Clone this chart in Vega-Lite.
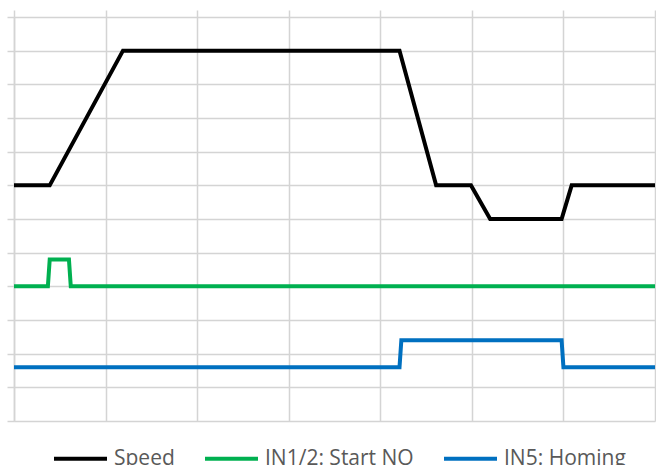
{
  "$schema": "https://vega.github.io/schema/vega-lite/v6.json",
  "width": 641,
  "height": 404,
  "autosize": {"type": "none"},
  "padding": {"left": 14, "top": 17, "right": 1, "bottom": 44},
  "background": "white",
  "config": {
    "view": {"stroke": null},
    "font": "Open Sans"
  },
  "data": {
    "values": [
      {"series": "Speed", "i": 0, "t": 0, "v": 7},
      {"series": "Speed", "i": 1, "t": 0.39, "v": 7},
      {"series": "Speed", "i": 2, "t": 1.19, "v": 11},
      {"series": "Speed", "i": 3, "t": 4.21, "v": 11},
      {"series": "Speed", "i": 4, "t": 4.61, "v": 7},
      {"series": "Speed", "i": 5, "t": 4.99, "v": 7},
      {"series": "Speed", "i": 6, "t": 5.2, "v": 6},
      {"series": "Speed", "i": 7, "t": 5.98, "v": 6},
      {"series": "Speed", "i": 8, "t": 6.09, "v": 7},
      {"series": "Speed", "i": 9, "t": 7, "v": 7},
      {"series": "IN1/2: Start NO", "i": 0, "t": 0, "v": 4},
      {"series": "IN1/2: Start NO", "i": 1, "t": 0.37, "v": 4},
      {"series": "IN1/2: Start NO", "i": 2, "t": 0.39, "v": 4.8},
      {"series": "IN1/2: Start NO", "i": 3, "t": 0.6, "v": 4.8},
      {"series": "IN1/2: Start NO", "i": 4, "t": 0.62, "v": 4},
      {"series": "IN1/2: Start NO", "i": 5, "t": 7, "v": 4},
      {"series": "IN5: Homing", "i": 0, "t": 0, "v": 1.6},
      {"series": "IN5: Homing", "i": 1, "t": 4.21, "v": 1.6},
      {"series": "IN5: Homing", "i": 2, "t": 4.23, "v": 2.4},
      {"series": "IN5: Homing", "i": 3, "t": 5.98, "v": 2.4},
      {"series": "IN5: Homing", "i": 4, "t": 6.0, "v": 1.6},
      {"series": "IN5: Homing", "i": 5, "t": 7, "v": 1.6}
    ]
  },
  "mark": {"type": "line", "strokeWidth": 4, "strokeJoin": "miter", "strokeCap": "butt"},
  "encoding": {
    "x": {
      "field": "t",
      "type": "quantitative",
      "scale": {"domain": [0, 7], "nice": false, "zero": false},
      "axis": {
        "orient": "top",
        "values": [0, 1, 2, 3, 4, 5, 6, 7],
        "labels": false,
        "title": null,
        "domain": false,
        "ticks": true,
        "tickSize": 7,
        "tickColor": "#d4d4d4",
        "tickWidth": 1.5,
        "grid": true,
        "gridColor": "#d4d4d4",
        "gridWidth": 1.5
      }
    },
    "y": {
      "field": "v",
      "type": "quantitative",
      "scale": {"domain": [0, 12], "nice": false, "zero": false},
      "axis": {
        "values": [0, 1, 2, 3, 4, 5, 6, 7, 8, 9, 10, 11, 12],
        "labels": false,
        "title": null,
        "domain": true,
        "domainColor": "#d4d4d4",
        "domainWidth": 1.5,
        "ticks": true,
        "tickSize": 7,
        "tickColor": "#d4d4d4",
        "tickWidth": 1.5,
        "grid": true,
        "gridColor": "#d4d4d4",
        "gridWidth": 1.5
      }
    },
    "color": {
      "field": "series",
      "type": "nominal",
      "scale": {
        "domain": ["Speed", "IN1/2: Start NO", "IN5: Homing"],
        "range": ["#000000", "#00b050", "#0070c0"]
      },
      "legend": {
        "title": null,
        "orient": "none",
        "direction": "horizontal",
        "legendX": 38,
        "legendY": 413,
        "padding": 0,
        "symbolType": "stroke",
        "symbolSize": 2809,
        "symbolStrokeWidth": 4,
        "labelFontSize": 21,
        "labelColor": "#595959",
        "labelOffset": 5,
        "columnPadding": 22
      }
    },
    "order": {"field": "i", "type": "quantitative"}
  }
}
